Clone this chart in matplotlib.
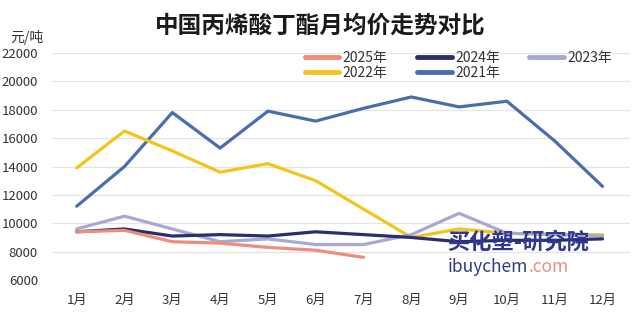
import matplotlib
matplotlib.use("Agg")
import matplotlib.pyplot as plt

plt.rcParams['font.family'] = ['Noto Sans CJK SC', 'DejaVu Sans']

months = ["1月", "2月", "3月", "4月", "5月", "6月", "7月", "8月", "9月", "10月", "11月", "12月"]
y2025 = [9400, 9500, 8700, 8600, 8300, 8100, 7600]
y2024 = [9400, 9600, 9100, 9200, 9100, 9400, 9200, 9000, 8700, 8800, 8800, 8900]
y2023 = [9600, 10500, 9600, 8700, 8900, 8500, 8500, 9200, 10700, 9300, 9200, 9100]
y2022 = [13900, 16500, 15100, 13600, 14200, 13000, 11000, 9000, 9600, 9300, 9200, 9200]
y2021 = [11200, 14000, 17800, 15300, 17900, 17200, 18100, 18900, 18200, 18600, 15800, 12600]

series = [
    ("2025年", y2025, "#F08C7A"),
    ("2024年", y2024, "#2B2E6E"),
    ("2023年", y2023, "#A7A9D2"),
    ("2022年", y2022, "#F3C41A"),
    ("2021年", y2021, "#4A6EAD"),
]

fig = plt.figure(figsize=(6.4, 3.23), dpi=100)
ax = fig.add_axes([0.081, 0.133, 0.903, 0.703])

x_all = list(range(1, 13))
order = [4, 3, 2, 1, 0]
lines = {}
for i in order:
    name, vals, col = series[i]
    ln, = ax.plot(x_all[:len(vals)], vals, color=col, lw=2.3, label=name,
                  solid_capstyle='round', solid_joinstyle='round', zorder=3 + (4 - i) * 0.1)
    lines[name] = ln

ax.set_xlim(0.48, 12.57)
ax.set_ylim(6000, 22000)
ax.set_yticks(range(6000, 22001, 2000))
ax.set_xticks(x_all)
ax.set_xticklabels(months)
ax.grid(axis='y', color='#E4E4E4', lw=0.9)
ax.set_axisbelow(True)
for s in ax.spines.values():
    s.set_visible(False)
ax.tick_params(axis='both', length=0, labelsize=9.5, colors='#333333')
ax.tick_params(axis='x', pad=10)
ax.tick_params(axis='y', pad=10)

# legend filled column by column so rows read 2025/2024/2023, 2022/2021
handles = [lines[n] for n in ["2025年", "2022年", "2024年", "2021年", "2023年"]]
leg = ax.legend(handles=handles, ncol=3, loc='upper left', bbox_to_anchor=(0.423, 1.045),
                frameon=False, fontsize=10, handlelength=2.5, handletextpad=0.25,
                columnspacing=2.1, labelspacing=0.05, borderaxespad=0.2)
for t in leg.get_texts():
    t.set_color('#333333')
for h in leg.legend_handles:
    h.set_linewidth(3.5)

fig.text(0.5, 0.922, "中国丙烯酸丁酯月均价走势对比", ha='center', va='center',
         fontsize=17, fontweight='bold', color='#1a1a1a')
fig.text(0.016, 0.885, "元/吨", ha='left', va='center', fontsize=10, color='#333333')

# watermark logo text
fig.text(0.698, 0.250, "买化塑-研究院", ha='left', va='center', fontsize=16, fontweight='bold',
         style='italic', color='#2F3A8F', zorder=10)
fig.text(0.700, 0.174, "ibuychem", ha='left', va='center', fontsize=12.5,
         color='#2F3A8F', zorder=10)
fig.text(0.826, 0.174, ".com", ha='left', va='center', fontsize=12.5,
         color='#E8907E', zorder=10)

fig.savefig("out.png", dpi=100, facecolor='white')
